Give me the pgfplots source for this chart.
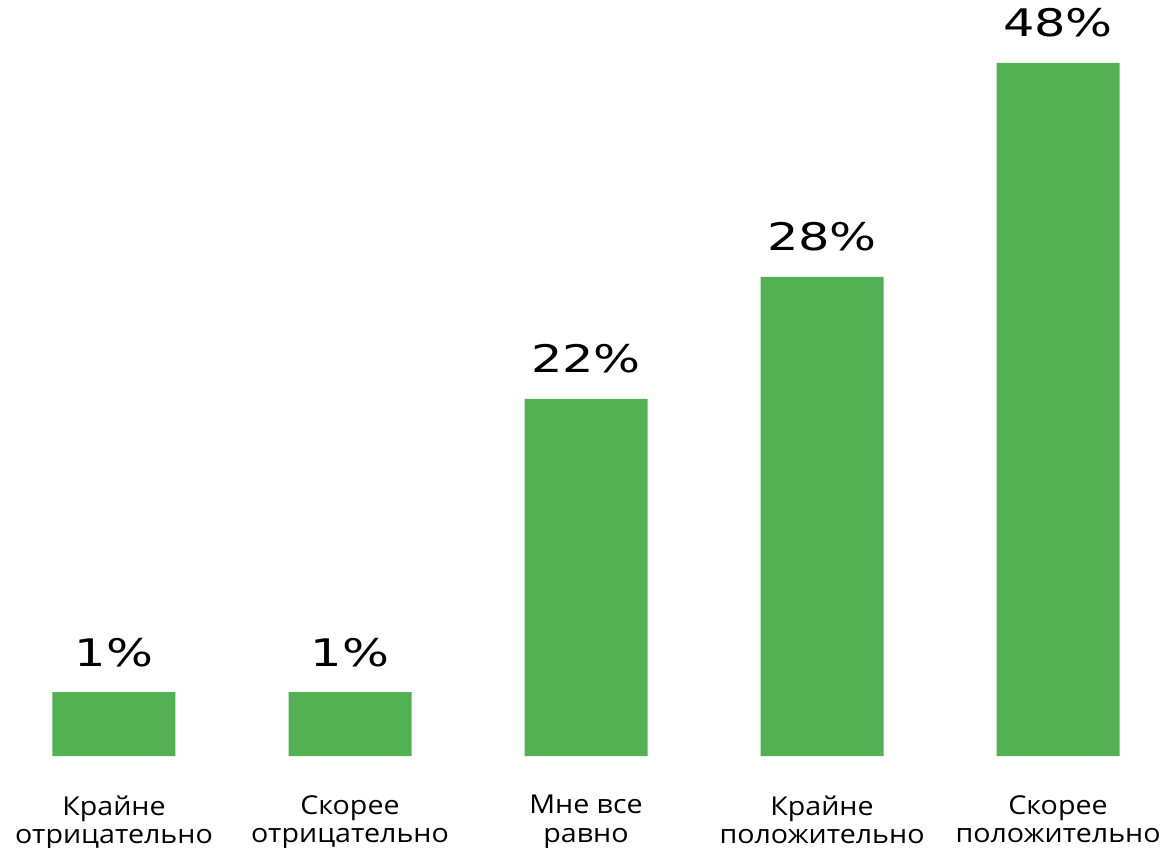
\documentclass[border=0pt]{standalone}
\usepackage{pgfplots}
\pgfplotsset{compat=1.18}
\usepackage{fontspec}
\setmainfont{Open Sans}[FakeStretch=1.1]
\newfontfamily\numfont{DejaVu Sans}[FakeStretch=1.3]
\definecolor{barg}{HTML}{52B153}
\begin{document}
\begin{tikzpicture}
\begin{axis}[name=ax, scale only axis, width=584pt, height=423.5pt,
  xmin=-0.483, xmax=4.466, ymin=-91, ymax=756,
  axis line style={draw=none}, major tick length=0pt,
  ytick=\empty, xtick=data,
  xticklabels={{Крайне\\отрицательно},{Скорее\\отрицательно},{Мне все\\равно},{Крайне\\положительно},{Скорее\\положительно}},
  xticklabel style={align=center, font=\fontsize{13}{14.2}\selectfont, anchor=north, inner sep=0pt, yshift=26pt},
  ybar, bar width=61.5pt, bar shift=0pt,
  point meta=explicit symbolic,
  nodes near coords,
  every node near coord/.append style={font=\numfont\fontsize{19}{19}\selectfont, anchor=base, yshift=13pt, inner sep=0pt},
  clip=false]
\addplot[fill=barg, draw=none] coordinates {(0,64) [1\%] (1,64) [1\%] (2,357) [22\%] (3,479) [28\%] (4,693) [48\%]};
\end{axis}
\pgfresetboundingbox
\path[use as bounding box] (ax.south west) rectangle (ax.north east);
\end{tikzpicture}
\end{document}
